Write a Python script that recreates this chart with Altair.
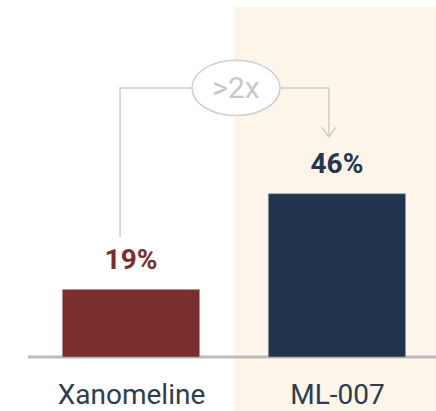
import altair as alt
import pandas as pd

# ---- data ----
categories = ["Xanomeline", "ML-007"]
positions = [0, 1]
values = [19, 46]
labels = ["19%", "46%"]
bar_colors = ["#7a2e2e", "#22354f"]
label_colors = ["#7a2e2e", "#26364f"]

# connector path (in data units: x = category index, y = percent)
conn_seg = ["a", "a", "a", "b", "b", "b"]
conn_x = [-0.053, -0.053, 0.296, 0.723, 0.961, 0.961]
conn_y = [33.8, 75.8, 75.8, 75.8, 75.8, 62.0]
badge_x = [0.51]
badge_y = [75.8]
badge_text = [">2x"]
arrow_x = [0.961]
arrow_y = [62.0]

X_DOM = [-0.636, 1.481]
Y_DOM = [0, 100.56]

bars_df = pd.DataFrame({
    "cat": categories, "pos": positions, "val": values, "label": labels,
    "color": bar_colors, "lcolor": label_colors,
    "x0": [p - 0.333 for p in positions], "x1": [p + 0.333 for p in positions],
})
conn_df = pd.DataFrame({"seg": conn_seg, "x": conn_x, "y": conn_y,
                        "i": list(range(len(conn_x)))})
badge_df = pd.DataFrame({"x": badge_x, "y": badge_y, "t": badge_text})
arrow_df = pd.DataFrame({"x": arrow_x, "y": arrow_y})
bg_df = pd.DataFrame({"x0": [0.5], "x1": [X_DOM[1]], "y0": [-15.2], "y1": [98.6]})
base_df = pd.DataFrame({"x0": [-0.5], "x1": [X_DOM[1]], "y": [0]})

label_expr = " : ".join(
    [f"datum.value == {p} ? '{c}'" for p, c in zip(positions, categories)]
) + " : ''"

xs = alt.Scale(domain=X_DOM, nice=False, zero=False)
ys = alt.Scale(domain=Y_DOM, nice=False, zero=False)
x_axis = alt.Axis(values=positions, labelExpr=label_expr, title=None, grid=False,
                  ticks=False, tickSize=0, domain=False, labelFontSize=28,
                  labelFont="Roboto", labelColor="#2e3d50", labelPadding=46,
                  labelBaseline="alphabetic", labelFlush=False,
                  labelOverlap=False, labelBound=False, zindex=2)

bg = alt.Chart(bg_df).mark_rect(color="#fdf5e9").encode(
    x=alt.X("x0:Q", scale=xs, axis=x_axis), x2="x1:Q",
    y=alt.Y("y0:Q", scale=ys, axis=None), y2="y1:Q")

base = alt.Chart(base_df).mark_rule(color="#bcbcbc", strokeWidth=3).encode(
    x=alt.X("x0:Q", scale=xs), x2="x1:Q", y=alt.Y("y:Q", scale=ys))

bars = alt.Chart(bars_df).mark_rect(stroke="#a0a0a0", strokeWidth=1,
                                    strokeOpacity=0.6).encode(
    x=alt.X("x0:Q", scale=xs), x2="x1:Q",
    y=alt.Y("val:Q", scale=ys), y2=alt.datum(0),
    color=alt.Color("color:N", scale=None))

texts = alt.Chart(bars_df).mark_text(font="Roboto", fontSize=28, fontWeight="bold",
                                     baseline="alphabetic", dy=-21).encode(
    x=alt.X("pos:Q", scale=xs), y=alt.Y("val:Q", scale=ys), text="label:N",
    color=alt.Color("lcolor:N", scale=None))

conn = alt.Chart(conn_df).mark_line(color="#cccccc", strokeWidth=1.5).encode(
    x=alt.X("x:Q", scale=xs), y=alt.Y("y:Q", scale=ys), detail="seg:N", order="i:Q")

ellipse = alt.Chart(badge_df).mark_point(
    shape="M-1,0A1,0.63,0,1,1,1,0A1,0.63,0,1,1,-1,0Z", size=7744,
    filled=True, fill="white", stroke="#cfcfcf", strokeWidth=1.5, opacity=1).encode(
    x=alt.X("x:Q", scale=xs), y=alt.Y("y:Q", scale=ys))

badge = alt.Chart(badge_df).mark_text(font="Roboto", fontSize=30, color="#c8c8c8",
                                      baseline="middle", dy=1).encode(
    x=alt.X("x:Q", scale=xs), y=alt.Y("y:Q", scale=ys), text="t:N")

arrow = alt.Chart(arrow_df).mark_point(
    shape="M-1,-1.4L0,0L1,-1.4", size=196, filled=False, stroke="#cccccc",
    strokeWidth=1.5, opacity=1).encode(
    x=alt.X("x:Q", scale=xs), y=alt.Y("y:Q", scale=ys))

chart = alt.layer(bg, base, bars, texts, conn, ellipse, badge, arrow).properties(
    width=436, height=357,
    autosize=alt.AutoSizeParams(type="none"),
    padding={"left": 0, "right": 0, "top": 0, "bottom": 54},
    background="white",
).configure_view(stroke=None)

chart.save("out.html", embed_options={"renderer": "svg", "actions": False})
